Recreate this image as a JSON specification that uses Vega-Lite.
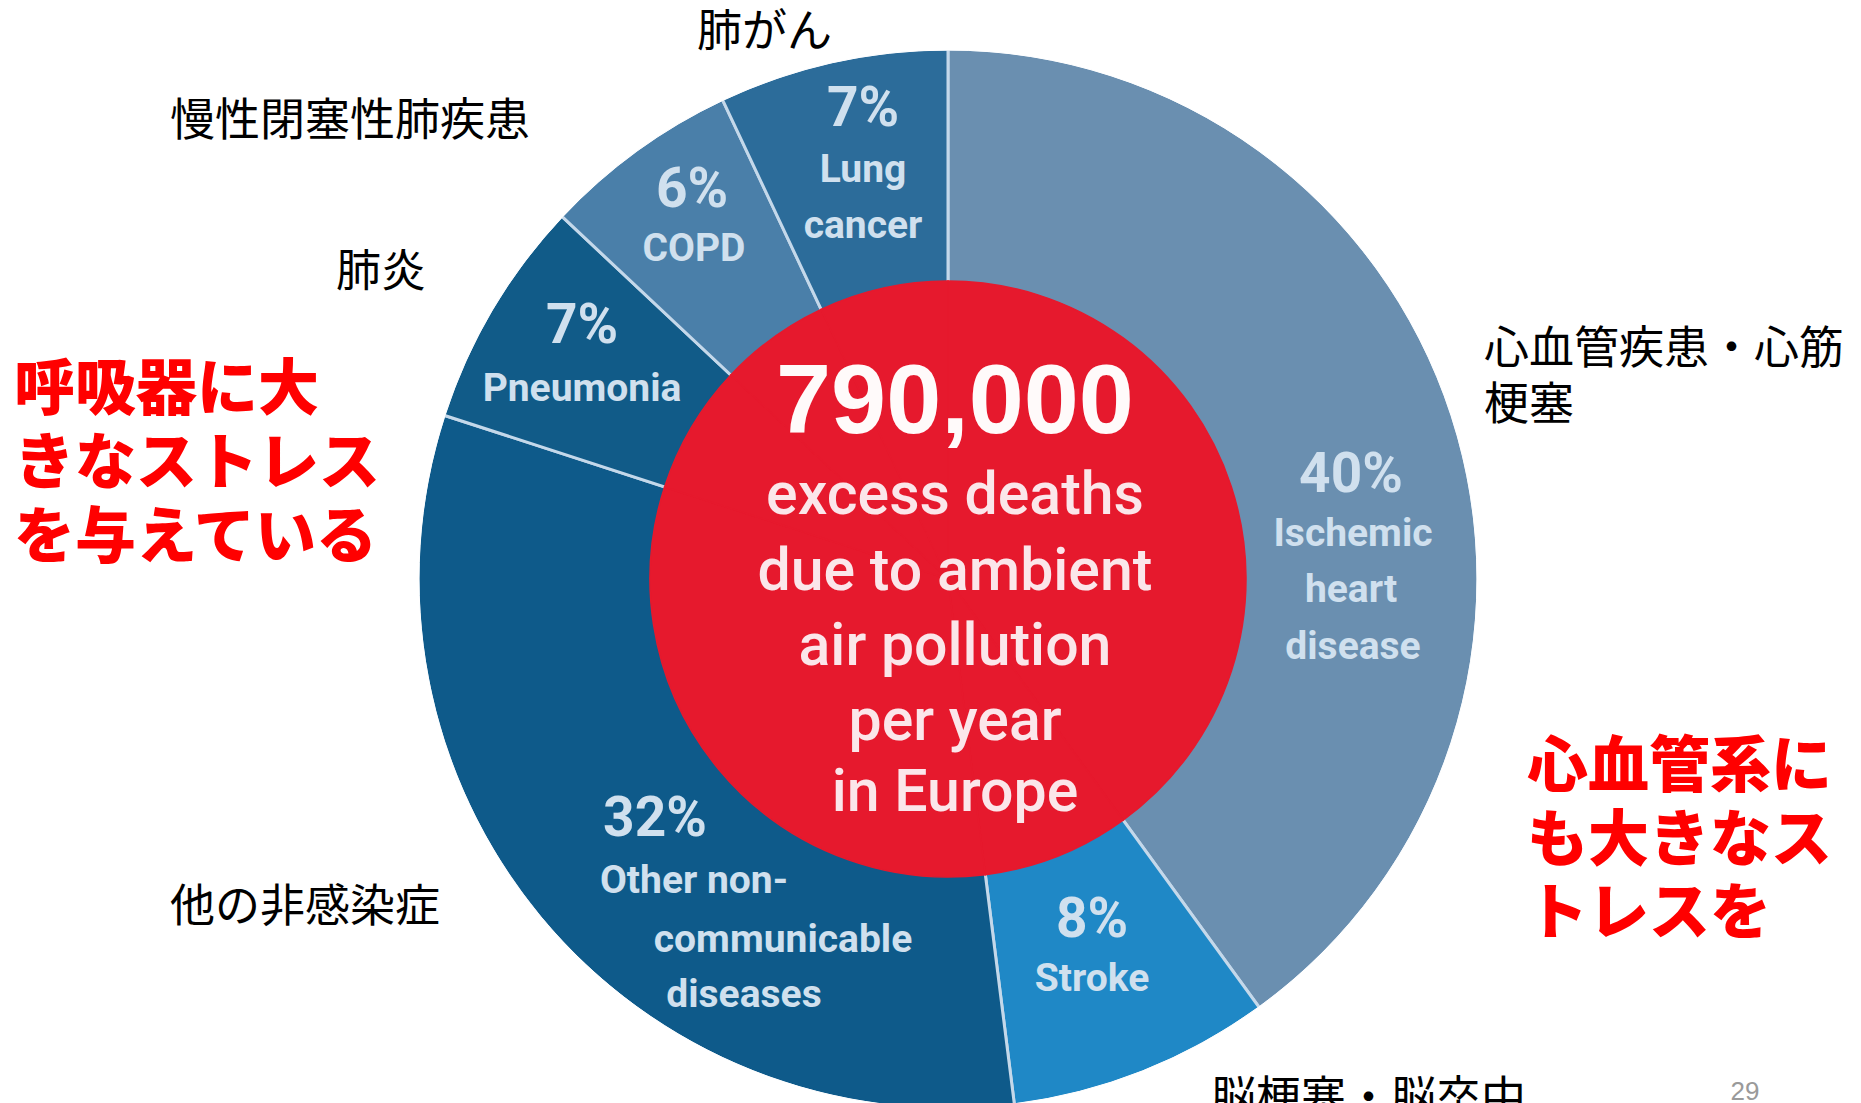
{
  "$schema": "https://vega.github.io/schema/vega-lite/v6.json",
  "autosize": {"type": "none"},
  "padding": {"left": 35, "top": 55, "right": 0, "bottom": 0},
  "width": 1826,
  "height": 1048,
  "background": "white",
  "config": {"view": {"stroke": null}},
  "datasets": {
    "slices": [
      {"cause": "Ischemic heart disease", "share": 40, "order": 1},
      {"cause": "Stroke", "share": 8, "order": 2},
      {"cause": "Other non-communicable diseases", "share": 32, "order": 3},
      {"cause": "Pneumonia", "share": 7, "order": 4},
      {"cause": "COPD", "share": 6, "order": 5},
      {"cause": "Lung cancer", "share": 7, "order": 6}
    ],
    "labels": [
      {"text": "7%", "x": 863, "y": 109, "role": "pct"},
      {"text": "Lung", "x": 863, "y": 170, "role": "name"},
      {"text": "cancer", "x": 863, "y": 226, "role": "name"},
      {"text": "6%", "x": 692, "y": 190, "role": "pct"},
      {"text": "COPD", "x": 694, "y": 249, "role": "name"},
      {"text": "7%", "x": 582, "y": 326, "role": "pct"},
      {"text": "Pneumonia", "x": 582, "y": 389, "role": "name"},
      {"text": "40%", "x": 1351, "y": 475, "role": "pct"},
      {"text": "Ischemic", "x": 1353, "y": 534, "role": "name"},
      {"text": "heart", "x": 1351, "y": 590, "role": "name"},
      {"text": "disease", "x": 1353, "y": 647, "role": "name"},
      {"text": "8%", "x": 1092, "y": 920, "role": "pct"},
      {"text": "Stroke", "x": 1092, "y": 979, "role": "name"},
      {"text": "32%", "x": 655, "y": 819, "role": "pct"},
      {"text": "Other non-", "x": 694, "y": 881, "role": "name"},
      {"text": "communicable", "x": 783, "y": 940, "role": "name"},
      {"text": "diseases", "x": 744, "y": 995, "role": "name"},
      {"text": "790,000", "x": 955, "y": 403, "role": "big"},
      {"text": "excess deaths", "x": 955, "y": 496, "role": "center"},
      {"text": "due to ambient", "x": 955, "y": 572, "role": "center"},
      {"text": "air pollution", "x": 955, "y": 647, "role": "center"},
      {"text": "per year", "x": 955, "y": 722, "role": "center"},
      {"text": "in Europe", "x": 955, "y": 793, "role": "center"},
      {"text": "肺がん", "x": 697, "y": 33, "role": "jp"},
      {"text": "慢性閉塞性肺疾患", "x": 170, "y": 122, "role": "jp"},
      {"text": "肺炎", "x": 336, "y": 273, "role": "jp"},
      {"text": "心血管疾患・心筋", "x": 1484, "y": 350, "role": "jp"},
      {"text": "梗塞", "x": 1484, "y": 406, "role": "jp"},
      {"text": "他の非感染症", "x": 170, "y": 908, "role": "jp"},
      {"text": "脳梗塞・脳卒中", "x": 1211, "y": 1100, "role": "jp"},
      {"text": "呼吸器に大", "x": 14, "y": 392, "role": "callout"},
      {"text": "きなストレス", "x": 14, "y": 466, "role": "callout"},
      {"text": "を与えている", "x": 14, "y": 540, "role": "callout"},
      {"text": "心血管系に", "x": 1527, "y": 769, "role": "callout"},
      {"text": "も大きなス", "x": 1527, "y": 843, "role": "callout"},
      {"text": "トレスを", "x": 1527, "y": 916, "role": "callout"},
      {"text": "29", "x": 1745, "y": 1092, "role": "page"}
    ]
  },
  "layer": [
    {
      "data": {"name": "slices"},
      "mark": {"type": "arc", "outerRadius": 530, "stroke": "#c4d8ea", "strokeWidth": 3},
      "encoding": {
        "theta": {"field": "share", "type": "quantitative", "stack": true},
        "order": {"field": "order", "type": "quantitative"},
        "color": {
          "field": "cause", "type": "nominal", "legend": null,
          "scale": {
            "domain": ["Ischemic heart disease", "Stroke", "Other non-communicable diseases", "Pneumonia", "COPD", "Lung cancer"],
            "range": ["#6a8fb0", "#1f88c6", "#0e5a8a", "#115b88", "#4a7fa9", "#2c6c9a"]
          }
        }
      }
    },
    {
      "data": {"name": "slices"},
      "mark": {"type": "arc", "innerRadius": 529, "outerRadius": 534, "fill": "#ffffff", "stroke": "#ffffff", "strokeWidth": 1},
      "encoding": {
        "theta": {"field": "share", "type": "quantitative", "stack": true},
        "order": {"field": "order", "type": "quantitative"}
      }
    },
    {
      "data": {"name": "slices"},
      "mark": {"type": "arc", "outerRadius": 298, "fill": "#e6192d", "stroke": "#e6192d", "strokeWidth": 1.5},
      "encoding": {
        "theta": {"field": "share", "type": "quantitative", "stack": true},
        "order": {"field": "order", "type": "quantitative"}
      }
    },
    {
      "data": {"name": "labels"},
      "layer": [
        {
          "transform": [{"filter": "datum.role === 'pct'"}],
          "mark": {"type": "text", "font": "Roboto", "fontWeight": "bold", "fontSize": 55, "fill": "#d0e0ee", "align": "center", "baseline": "middle"}
        },
        {
          "transform": [{"filter": "datum.role === 'name'"}],
          "mark": {"type": "text", "font": "Roboto", "fontWeight": "bold", "fontSize": 39, "fill": "#d0e0ee", "align": "center", "baseline": "middle"}
        },
        {
          "transform": [{"filter": "datum.role === 'big'"}],
          "mark": {"type": "text", "font": "Liberation Sans, Arial", "fontWeight": "bold", "fontSize": 99, "fill": "#fffafa", "align": "center", "baseline": "middle"}
        },
        {
          "transform": [{"filter": "datum.role === 'center'"}],
          "mark": {"type": "text", "font": "Roboto", "fontWeight": 500, "fontSize": 59, "fill": "#fbe6ea", "align": "center", "baseline": "middle"}
        },
        {
          "transform": [{"filter": "datum.role === 'jp'"}],
          "mark": {"type": "text", "font": "Noto Sans CJK JP", "fontWeight": "normal", "fontSize": 45, "fill": "#000000", "align": "left", "baseline": "middle"}
        },
        {
          "transform": [{"filter": "datum.role === 'callout'"}],
          "mark": {"type": "text", "font": "Noto Sans CJK JP", "fontWeight": 900, "fontSize": 61, "fill": "#ff0000", "align": "left", "baseline": "middle"}
        },
        {
          "transform": [{"filter": "datum.role === 'page'"}],
          "mark": {"type": "text", "font": "Liberation Sans, Arial", "fontSize": 26, "fill": "#9a9a9a", "align": "center", "baseline": "middle"}
        }
      ],
      "encoding": {
        "x": {"field": "x", "type": "quantitative", "scale": {"domain": [35, 1861], "nice": false, "zero": false}, "axis": null},
        "y": {"field": "y", "type": "quantitative", "scale": {"domain": [55, 1103], "nice": false, "zero": false, "reverse": true}, "axis": null},
        "text": {"field": "text", "type": "nominal"}
      }
    }
  ]
}
